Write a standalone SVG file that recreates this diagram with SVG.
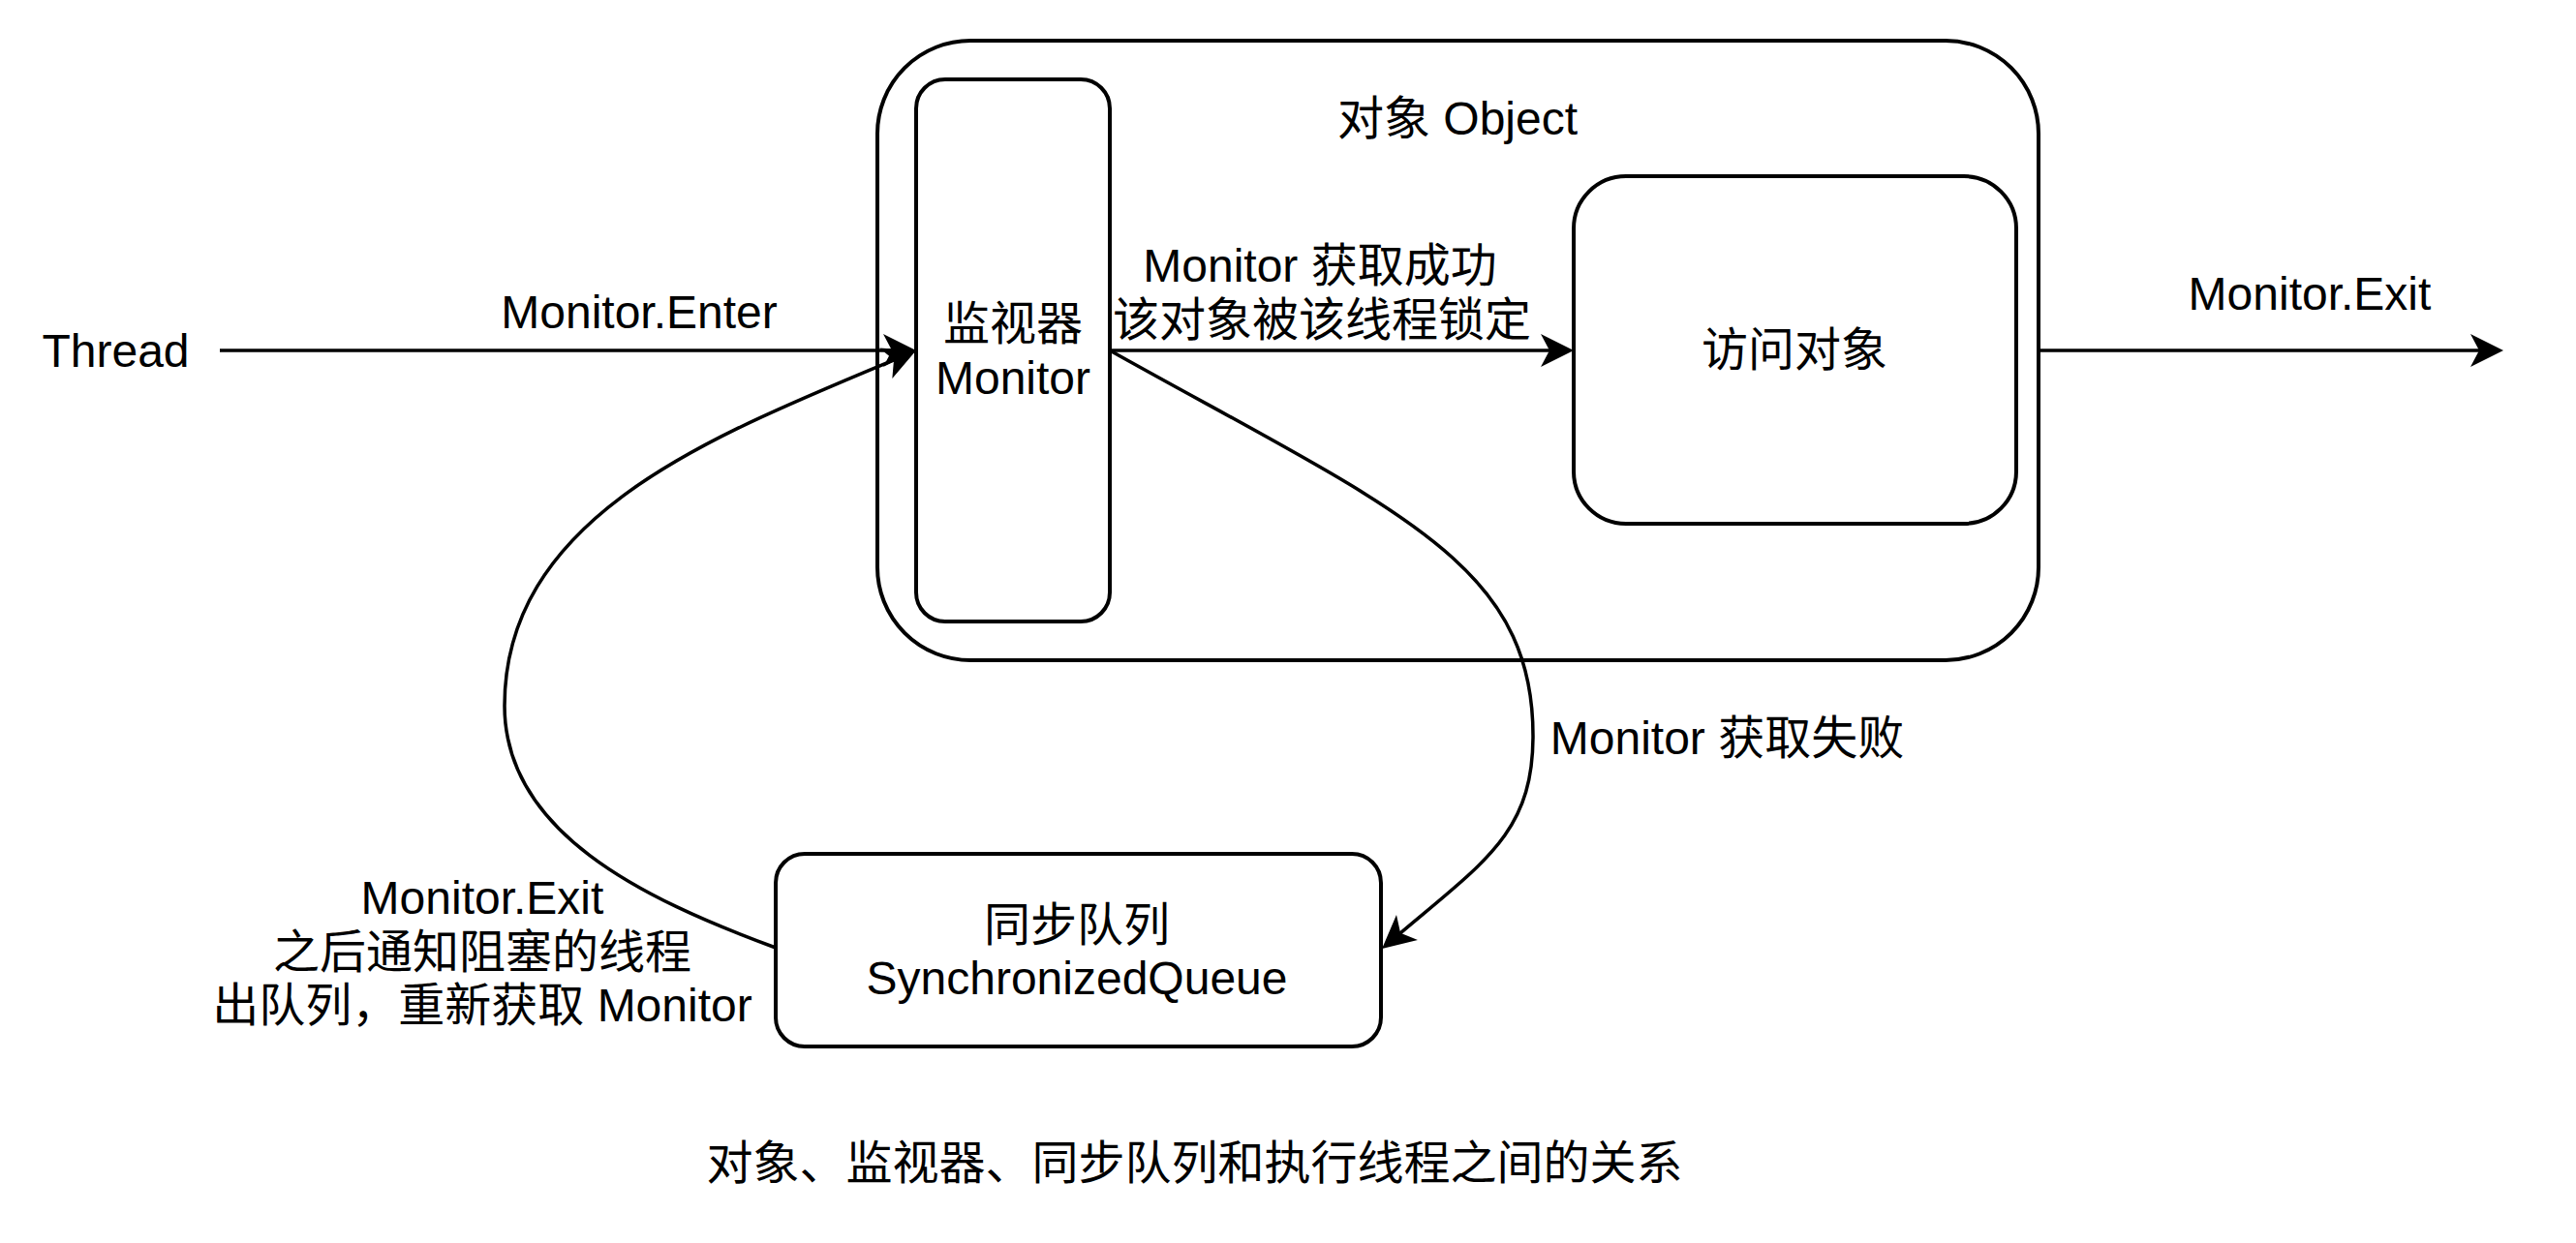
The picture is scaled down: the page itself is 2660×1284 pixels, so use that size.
<svg xmlns="http://www.w3.org/2000/svg" width="2660" height="1284" viewBox="0 0 2660 1284">
<defs>
<style>
.box{fill:#fff;stroke:#000;stroke-width:4}
.edge{fill:none;stroke:#000;stroke-width:3.5}
text{font-family:'Liberation Sans','Noto Sans CJK SC',sans-serif;font-size:48px;fill:#000;text-anchor:middle}
</style>
<marker id="arr" markerUnits="userSpaceOnUse" markerWidth="40" markerHeight="40" viewBox="-36 -20 40 40" refX="-20" refY="0" orient="auto">
<path d="M0,0 L-34,-17 L-25,0 L-34,17 Z" fill="#000"/>
</marker>
</defs>
<rect width="2660" height="1284" fill="#fff"/>
<g id="object">
<rect class="box" x="906" y="42" width="1199" height="640" rx="96"/>
<text x="1505" y="139">对象 Object</text>
</g>
<g id="monitor">
<rect class="box" x="946" y="82" width="200" height="560" rx="30"/>
<text x="1046" y="351">监视器</text>
<text x="1046" y="407">Monitor</text>
</g>
<g id="access">
<rect class="box" x="1625" y="182" width="457" height="359" rx="54"/>
<text x="1853" y="378">访问对象</text>
</g>
<g id="queue">
<rect class="box" x="801" y="882" width="625" height="199" rx="30"/>
<text x="1112" y="972">同步队列</text>
<text x="1112" y="1027">SynchronizedQueue</text>
</g>
<g id="thread">
<text x="119.5" y="379">Thread</text>
</g>
<g id="connectors">
<path class="edge" d="M227,362 L926,362" marker-end="url(#arr)"/>
<path class="edge" d="M1146,362 L1605,362" marker-end="url(#arr)"/>
<path class="edge" d="M2105,362 L2565,362" marker-end="url(#arr)"/>
<path class="edge" d="M1146,362 C1441,527 1583,580 1583,760 C1583,860 1533.9,889.5 1442.3,967.1" marker-end="url(#arr)"/>
<path class="edge" d="M801,979 C662,928 521,859 521,729 C521,529 743.6,447.8 927.6,369.8" marker-end="url(#arr)"/>
<text x="660" y="339">Monitor.Enter</text>
<text x="1363" y="291">Monitor 获取成功</text>
<text x="1365" y="347">该对象被该线程锁定</text>
<text x="2385" y="320">Monitor.Exit</text>
<text x="1783.5" y="779">Monitor 获取失败</text>
<text x="498" y="944">Monitor.Exit</text>
<text x="498" y="1000">之后通知阻塞的线程</text>
<text x="498" y="1055">出队列，重新获取 Monitor</text>
</g>
<g id="caption">
<text x="1233.5" y="1218">对象、监视器、同步队列和执行线程之间的关系</text>
</g>
</svg>
